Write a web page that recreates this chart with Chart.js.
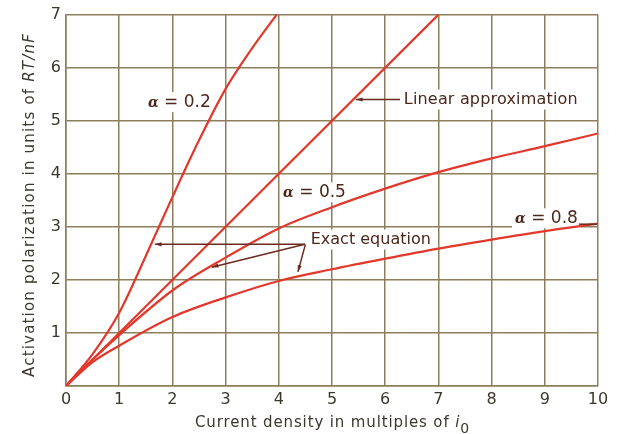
<!DOCTYPE html>
<html>
<head>
<meta charset="utf-8">
<script src="https://cdn.jsdelivr.net/npm/chart.js@4"></script>
<style>
  html, body { margin: 0; padding: 0; background: #fff; }
  #wrap { width: 620px; height: 434px; }
</style>
</head>
<body>
<div id="wrap"><canvas id="chart" width="620" height="434"></canvas></div>
<script>
"use strict";

// values (x = i / i0, y = activation polarization)
const linear_x = [0, 7];
const linear_y = [0, 7];

const a02_x = [0, 0.5, 1, 1.5, 2, 2.5, 3, 3.5, 3.96];
const a02_y = [0, 0.6, 1.38, 2.45, 3.56, 4.63, 5.6, 6.37, 7];

const a05_x = [0, 0.5, 1, 2, 3, 4, 5, 6, 7, 8, 9, 10];
const a05_y = [0, 0.5, 0.96, 1.8, 2.42, 2.97, 3.37, 3.72, 4.03, 4.29, 4.52, 4.76];

const a08_x = [0, 0.5, 1, 2, 3, 4, 5, 6, 7, 8, 9, 10];
const a08_y = [0, 0.45, 0.76, 1.3, 1.67, 1.98, 2.2, 2.4, 2.59, 2.76, 2.92, 3.06];

const x_ticks = [0, 1, 2, 3, 4, 5, 6, 7, 8, 9, 10];
const y_ticks = [0, 1, 2, 3, 4, 5, 6, 7];

const grid_color = '#8d7f5c';
const curve_color = '#e2382c';
const ink = '#4a281c';
const tick_ink = '#3a372c';
const sans = '"DejaVu Sans", "Liberation Sans", sans-serif';

function zip (xs, ys) {
    return xs.map((x, i) => ({x: x, y: ys[i]}));
}

function curve (xs, ys) {
    return {
        data: zip(xs, ys),
        showLine: true,
        borderColor: curve_color,
        borderWidth: 2.2,
        pointRadius: 0,
        cubicInterpolationMode: 'monotone',
        fill: false,
    };
}

// draw text pieces one after another, each piece with its own font
function draw_runs (ctx, x, y, runs, spacing) {
    let cx = x;
    ctx.letterSpacing = (spacing || 0) + 'px';
    runs.forEach((r) => {
        ctx.font = r.font;
        ctx.fillText(r.text, cx, y + (r.dy || 0));
        cx += ctx.measureText(r.text).width;
    });
    ctx.letterSpacing = '0px';
    return cx - x;
}

function runs_width (ctx, runs, spacing) {
    let w = 0;
    ctx.letterSpacing = (spacing || 0) + 'px';
    runs.forEach((r) => { ctx.font = r.font; w += ctx.measureText(r.text).width; });
    ctx.letterSpacing = '0px';
    return w;
}

// extra letter spacing so that a text run gets the wanted width
function fit_spacing (ctx, runs, target) {
    const n = runs.reduce((s, r) => s + r.text.length, 0);
    return Math.max(0, (target - runs_width(ctx, runs, 0)) / n);
}

function arrow (ctx, x1, y1, x2, y2) {
    ctx.beginPath();
    ctx.moveTo(x1, y1);
    ctx.lineTo(x2, y2);
    ctx.stroke();
    const ang = Math.atan2(y2 - y1, x2 - x1);
    const len = 7;
    ctx.beginPath();
    ctx.moveTo(x2, y2);
    ctx.lineTo(x2 - len * Math.cos(ang - 0.3), y2 - len * Math.sin(ang - 0.3));
    ctx.lineTo(x2 - len * Math.cos(ang + 0.3), y2 - len * Math.sin(ang + 0.3));
    ctx.closePath();
    ctx.fill();
}

const alpha_font = 'bold italic 14px "DejaVu Serif", serif';
const label_font = '16px ' + sans;
const alpha_runs = (v) => [
    {text: 'α', font: alpha_font, dy: 1},
    {text: ' = ' + v, font: '17px ' + sans},
];

// [x, y, text runs, wanted width]
const labels = [
    [1.54, 5.35, alpha_runs('0.2'), 60],
    [4.08, 3.65, alpha_runs('0.5'), 62],
    [8.44, 3.16, alpha_runs('0.8'), 62],
    [6.35, 5.40, [{text: 'Linear approximation', font: label_font}], 174],
    [4.6, 2.76, [{text: 'Exact equation', font: label_font}], 120],
];

const annotations = {
    id: 'annotations',
    // white boxes behind the labels hide the grid, the curves stay on top
    beforeDatasetsDraw (chart) {
        const ctx = chart.ctx;
        const xs = chart.scales.x, ys = chart.scales.y;
        ctx.save();
        ctx.fillStyle = '#fff';
        labels.forEach(([xv, yv, runs, target]) => {
            const sp = fit_spacing(ctx, runs, target);
            const w = runs_width(ctx, runs, sp);
            ctx.fillRect(xs.getPixelForValue(xv) - 3, ys.getPixelForValue(yv) - 10, w + 6, 20);
        });
        ctx.restore();
    },
    afterDraw (chart) {
        const ctx = chart.ctx;
        const xs = chart.scales.x;
        const ys = chart.scales.y;
        const px = (v) => xs.getPixelForValue(v);
        const py = (v) => ys.getPixelForValue(v);
        ctx.save();
        ctx.textBaseline = 'middle';
        ctx.textAlign = 'left';
        ctx.fillStyle = ink;
        labels.forEach(([xv, yv, runs, target]) => {
            draw_runs(ctx, px(xv), py(yv), runs, fit_spacing(ctx, runs, target));
        });

        ctx.strokeStyle = '#6a2a1e';
        ctx.fillStyle = '#6a2a1e';
        ctx.lineWidth = 1.5;
        arrow(ctx, px(6.28), py(5.40), px(5.45), py(5.40));
        // leader line of the alpha = 0.8 label
        ctx.beginPath();
        ctx.moveTo(px(9.64), py(3.05));
        ctx.lineTo(px(9.98), py(3.05));
        ctx.stroke();
        // three arrows of "Exact equation"
        const jx = px(4.49), jy = py(2.67);
        arrow(ctx, jx, jy, px(1.67), py(2.67));
        arrow(ctx, jx, jy, px(2.74), py(2.24));
        arrow(ctx, px(4.5), jy, px(4.36), py(2.15));

        // axis titles
        ctx.fillStyle = tick_ink;
        ctx.textBaseline = 'alphabetic';
        const xt = [
            {text: 'Current density in multiples of ', font: '15px ' + sans},
            {text: 'i', font: 'italic 15px ' + sans},
            {text: '0', font: '14px ' + sans, dy: 6},
        ];
        draw_runs(ctx, 195, 427, xt, fit_spacing(ctx, xt, 275));

        const yt = [
            {text: 'Activation polarization in units of ', font: '15px ' + sans},
            {text: 'RT/nF', font: 'italic 15px ' + sans},
        ];
        const ysp = fit_spacing(ctx, yt, 344);
        ctx.translate(34, 205);
        ctx.rotate(-Math.PI / 2);
        draw_runs(ctx, -172, 0, yt, ysp);
        ctx.restore();
    }
};

new Chart(document.getElementById('chart').getContext('2d'), {
    type: 'scatter',
    data: {
        datasets: [
            curve(linear_x, linear_y),
            curve(a02_x, a02_y),
            curve(a05_x, a05_y),
            curve(a08_x, a08_y),
        ]
    },
    options: {
        responsive: false,
        animation: false,
        layout: {padding: {top: 14, right: 22, left: 0, bottom: 0}},
        plugins: {legend: {display: false}, tooltip: {enabled: false}},
        scales: {
            x: {
                type: 'linear',
                min: 0,
                max: 10,
                afterBuildTicks: (s) => { s.ticks = x_ticks.map((v) => ({value: v})); },
                afterFit: (s) => { s.height = 48; },
                ticks: {
                    color: tick_ink,
                    font: {family: sans, size: 16},
                    padding: 4,
                },
                grid: {color: grid_color, lineWidth: 1.5, drawTicks: false},
                border: {color: grid_color, width: 1.5},
            },
            y: {
                type: 'linear',
                min: 0,
                max: 7,
                afterBuildTicks: (s) => { s.ticks = y_ticks.map((v) => ({value: v})); },
                afterFit: (s) => { s.width = 66; },
                ticks: {
                    color: tick_ink,
                    font: {family: sans, size: 16},
                    padding: 5,
                    callback: (v) => (v === 0 ? '' : String(v)),
                },
                grid: {color: grid_color, lineWidth: 1.5, drawTicks: false},
                border: {color: grid_color, width: 1.5},
            },
        },
    },
    plugins: [annotations],
});
</script>
</body>
</html>
